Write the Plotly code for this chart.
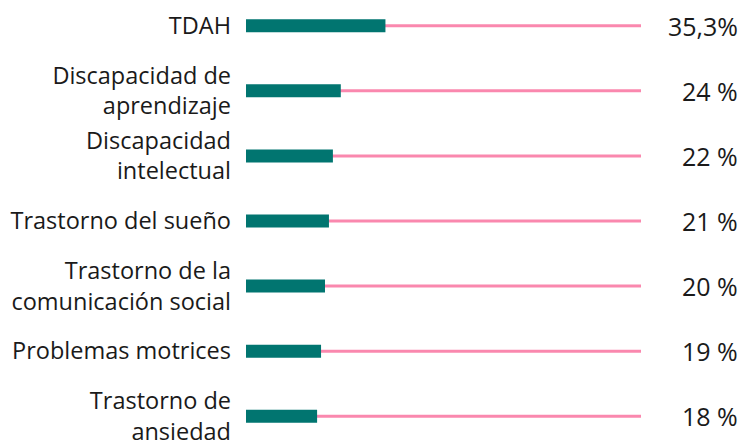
import plotly.graph_objects as go

categories = [
    "TDAH",
    "Discapacidad de<br>aprendizaje",
    "Discapacidad<br>intelectual",
    "Trastorno del sueño",
    "Trastorno de la<br>comunicación social",
    "Problemas motrices",
    "Trastorno de<br>ansiedad",
]
values = [35.3, 24, 22, 21, 20, 19, 18]
value_labels = ["35,3%", "24 %", "22 %", "21 %", "20 %", "19 %", "18 %"]
full_scale = [100] * len(categories)

TEAL = "#017570"
PINK = "#FA88AE"
TEXT = "#1a1a1a"
FONT = "Open Sans"

fig = go.Figure()
fig.add_trace(go.Bar(
    y=categories, x=full_scale, orientation="h",
    marker=dict(color=PINK, line=dict(width=0)),
    width=0.046, hoverinfo="skip", showlegend=False,
))
fig.add_trace(go.Bar(
    y=categories, x=values, orientation="h",
    marker=dict(color=TEAL, line=dict(width=0)),
    width=0.2, showlegend=False,
))

for cat, lab in zip(categories, value_labels):
    fig.add_annotation(
        x=1.2506, xref="paper", y=cat, yref="y",
        text=lab, showarrow=False, xanchor="right", yanchor="middle",
        font=dict(family=FONT, size=25, color=TEXT),
    )

fig.update_layout(
    width=746, height=440,
    margin=dict(l=246, r=105, t=0, b=0, autoexpand=False),
    barmode="overlay",
    plot_bgcolor="white", paper_bgcolor="white",
    font=dict(family=FONT, size=24, color=TEXT),
    xaxis=dict(range=[0, 100], visible=False, fixedrange=True, automargin=False),
    yaxis=dict(
        type="category", categoryorder="array", categoryarray=categories,
        range=[6.364, -0.395], showgrid=False, zeroline=False, automargin=False,
        showline=False, ticks="", ticklabelstandoff=14, fixedrange=True,
        tickfont=dict(family=FONT, size=23.5, color=TEXT),
    ),
)

fig.write_html(
    "out.html",
    config={"displayModeBar": False},
    post_script="document.body.style.margin='0';document.body.style.overflow='hidden';",
)
